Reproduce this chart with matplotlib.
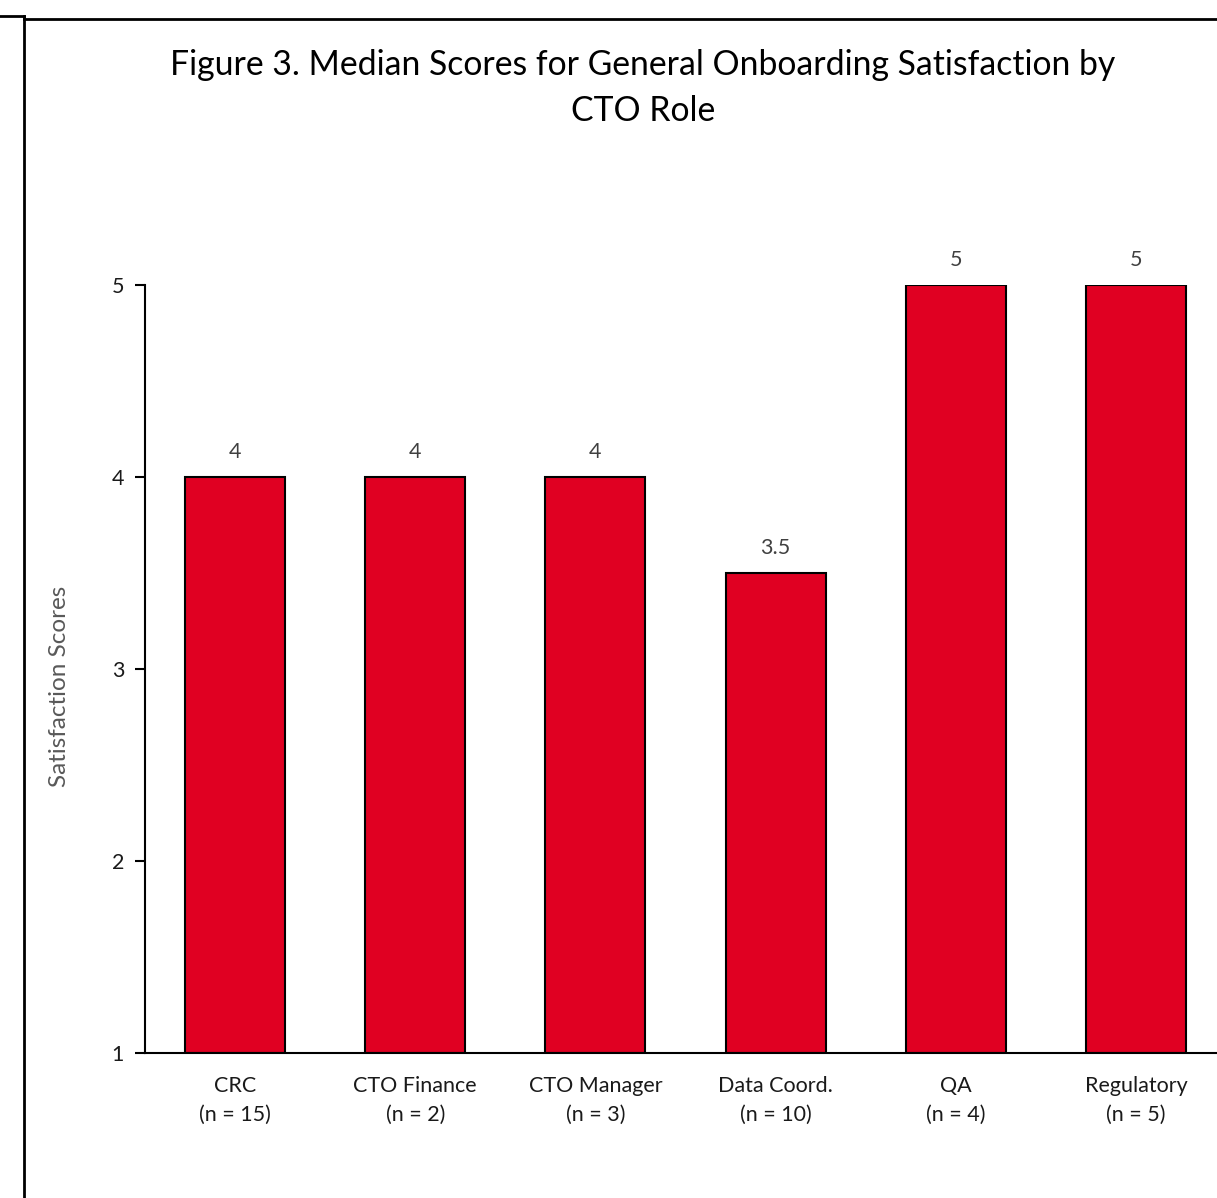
import matplotlib.pyplot as plt
from matplotlib.lines import Line2D

# ---------------------------------------------------------------------------
# Data
# ---------------------------------------------------------------------------
roles = ["CRC", "CTO Finance", "CTO Manager", "Data Coord.", "QA", "Regulatory"]
n_counts = [15, 2, 3, 10, 4, 5]
medians = [4, 4, 4, 3.5, 5, 5]
value_labels = ["4", "4", "4", "3.5", "5", "5"]

TITLE = "Figure 3. Median Scores for General Onboarding Satisfaction by\nCTO Role"
YLABEL = "Satisfaction Scores"

BAR_COLOR = "#E00022"
FONT = ["Lato", "DejaVu Sans"]

W, H = 1217, 1198
plt.rcParams["font.family"] = FONT

fig = plt.figure(figsize=(W / 100, H / 100), dpi=100)
fig.patch.set_facecolor("white")

# axes: left spine at x=145, y=1 at py=1053, y=5 at py=285; x-range runs off the right edge
ax_left = 145 / W
ax_right = 1226 / W
ax_bottom = 1 - 1053 / H
ax_top = 1 - 285 / H
ax = fig.add_axes([ax_left, ax_bottom, ax_right - ax_left, ax_top - ax_bottom])

x = list(range(len(roles)))
ax.bar(x, [m - 1 for m in medians], bottom=1, width=0.555,
       color=BAR_COLOR, edgecolor="black", linewidth=1.5, zorder=2)

for xi, m, lbl in zip(x, medians, value_labels):
    ax.annotate(lbl, (xi, m), xytext=(0, 11), textcoords="offset points",
                ha="center", va="bottom", fontsize=15.5, color="#404040")

ax.set_xlim(-0.5, len(roles) - 0.5)
ax.set_ylim(1, 5)
ax.set_yticks([1, 2, 3, 4, 5])
ax.set_xticks(x)
ax.set_xticklabels([f"{r}\n(n = {n})" for r, n in zip(roles, n_counts)],
                   fontsize=15.5, color="#1a1a1a", linespacing=1.55)
ax.tick_params(axis="x", length=0, pad=16.5)
ax.tick_params(axis="y", length=7, width=1.5, direction="out", pad=8,
               labelsize=15.5, labelcolor="#1a1a1a")

for side in ["top", "right"]:
    ax.spines[side].set_visible(False)
for side in ["left", "bottom"]:
    ax.spines[side].set_linewidth(1.5)
    ax.spines[side].set_color("black")
ax.patch.set_alpha(0)

fig.text(60 / W, 1 - 686 / H, YLABEL, rotation=90, ha="center", va="center",
         fontsize=17.5, color="#595959")

fig.text(643 / W, 1 - 88 / H, TITLE, ha="center", va="center",
         fontsize=24.3, color="black", linespacing=1.55)

# frame of the surrounding box (cropped)
fig.add_artist(Line2D([0, 24 / W], [1 - 16 / H, 1 - 16 / H], color="black", lw=2,
                      transform=fig.transFigure))
fig.add_artist(Line2D([24 / W, 1], [1 - 19 / H, 1 - 19 / H], color="black", lw=2,
                      transform=fig.transFigure))
fig.add_artist(Line2D([24 / W, 24 / W], [1 - 16 / H, 0], color="black", lw=2,
                      transform=fig.transFigure))

fig.savefig("out.png", dpi=100, facecolor="white")
